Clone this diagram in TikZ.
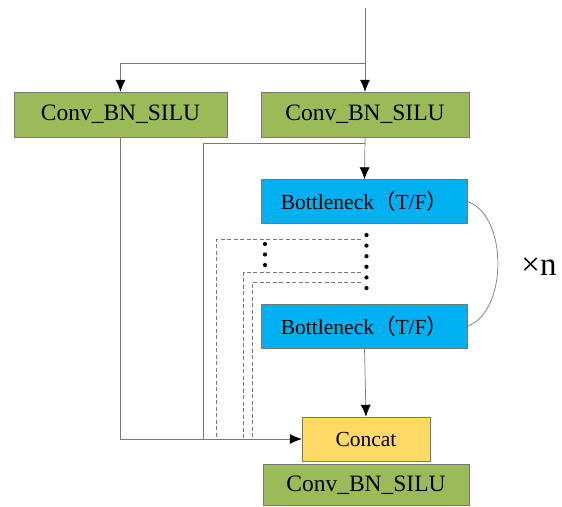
\documentclass[tikz,border=0pt]{standalone}
\usepackage{fontspec}
\setmainfont{Liberation Serif}
\newfontfamily\cjk{Noto Sans CJK SC}
\usetikzlibrary{arrows.meta}
\usetikzlibrary{positioning}
\usetikzlibrary{calc}
\definecolor{convgreen}{RGB}{155,187,89}
\definecolor{bnblue}{RGB}{0,176,240}
\definecolor{catyellow}{RGB}{255,217,102}
\definecolor{edgegray}{RGB}{120,120,120}

\begin{document}
\begin{tikzpicture}[x=1pt,y=-1pt,inner sep=0pt,>={Latex[length=12pt,width=10pt,color=black]},%
  blk/.style={draw=edgegray,minimum height=45pt,font=\fontsize{23.5}{23.5}\selectfont},
  bn/.style={blk,fill=bnblue,minimum width=206pt,minimum height=44pt,font=\fontsize{21.5}{21.5}\selectfont},
  ln/.style={draw=edgegray,line width=.7pt}]
\useasboundingbox (0,0) rectangle (562,506);
\node [blk,fill=convgreen,minimum width=213pt] (C1) at (120.5,114.5) {Conv\_BN\_SILU};
\node [blk,fill=convgreen,minimum width=208pt] (C2) at (365,114.5)  {Conv\_BN\_SILU};
\node [bn] (B1) at (364.5,201.5) {Bottleneck{\cjk （}T/F{\cjk ）}};
\node [bn] (B2) at (364.5,326)   {Bottleneck{\cjk （}T/F{\cjk ）}};
\node [blk,fill=catyellow,minimum width=128pt,minimum height=44pt,font=\fontsize{21.5}{21.5}\selectfont] (Cat) at (366,439) {Concat};
\node [blk,fill=convgreen,minimum width=206pt,minimum height=41pt] (C3) at (366,485) {Conv\_BN\_SILU};
\node [font=\fontsize{33}{33}\selectfont] (N) at (539,267) {×n};
\coordinate (In) at (365,8);
\coordinate (Split) at (365,63);
\coordinate (Skip) at (203.5,439);
% input and the two branches
\draw [ln,->] (In) -- (C2.north);
\draw [ln,->] (Split) -| (C1.north);
\draw [ln,->] (C2.south) -- (B1.north);
\draw [ln] ($(C2.south)+(0,6)$) -| (Skip);
\draw [ln,->] (C1.south) |- (Cat.west);
\draw [ln,->] (B2.south) -- (Cat.north);
\draw [ln] (B1.east) .. controls (508,216) and (508,311) .. (B2.east);
% repeated bottlenecks
\foreach \y/\x in {239/216.5,272/243.5,282/252}
  \draw [ln,dashed,dash pattern=on 4pt off 2.5pt] (361,\y) -| (\x,439);
\foreach \i in {0,...,5}
  \fill (366.5,235+\i*10.6) circle (2.1pt);
\foreach \i in {0,...,2}
  \fill (265,244+\i*10.5) circle (2.1pt);
\end{tikzpicture}
\end{document}
